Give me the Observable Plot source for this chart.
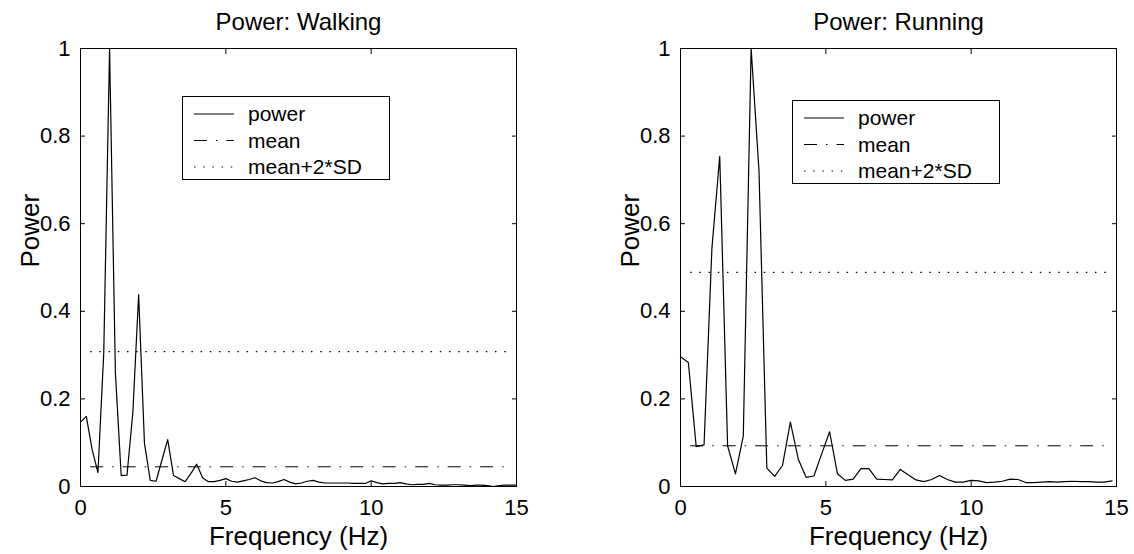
<!DOCTYPE html>
<html>
<head>
<meta charset="utf-8">
<script src="https://cdn.jsdelivr.net/npm/d3@7"></script>
<script src="https://cdn.jsdelivr.net/npm/@observablehq/plot@0.6"></script>
<style>
  body { margin: 0; background: #fff; }
  #chart { position: relative; width: 1134px; height: 554px; display: flex; font-family: "Liberation Sans", Arial, Helvetica, sans-serif; }
  .legend { position: absolute; width: 208px; height: 84px; box-sizing: border-box; border: 1px solid #000; background: #fff; }
  .legend svg { display: block; }
</style>
</head>
<body>
<div id="chart"></div>
<script>
// Power spectra (normalised) of walking and running signals
const walkingFreq = [0.0, 0.2, 0.4, 0.6, 0.8, 1.0, 1.2, 1.4, 1.6, 1.8, 2.0, 2.2, 2.4, 2.6, 2.8, 3.0, 3.2, 3.4, 3.6, 3.8,
  4.0, 4.2, 4.4, 4.6, 4.8, 5.0, 5.2, 5.4, 5.6, 5.8, 6.0, 6.2, 6.4, 6.6, 6.8, 7.0, 7.2, 7.4, 7.6, 7.8,
  8.0, 8.2, 8.4, 8.6, 8.8, 9.0, 9.2, 9.4, 9.6, 9.8, 10.0, 10.2, 10.4, 10.6, 10.8, 11.0, 11.2, 11.4, 11.6, 11.8,
  12.0, 12.2, 12.4, 12.6, 12.8, 13.0, 13.2, 13.4, 13.6, 13.8, 14.0, 14.2, 14.4, 14.6, 14.8, 15.0];
const walkingPower = [0.147, 0.160, 0.084, 0.032, 0.305, 1.000, 0.260, 0.025, 0.026, 0.168, 0.438, 0.099, 0.014, 0.012, 0.060, 0.107, 0.025, 0.018, 0.011, 0.030,
  0.051, 0.020, 0.011, 0.011, 0.014, 0.018, 0.012, 0.010, 0.013, 0.016, 0.020, 0.013, 0.009, 0.008, 0.011, 0.016, 0.010, 0.006, 0.008, 0.012,
  0.014, 0.010, 0.008, 0.008, 0.008, 0.008, 0.008, 0.007, 0.007, 0.007, 0.013, 0.009, 0.006, 0.007, 0.007, 0.009, 0.006, 0.004, 0.005, 0.005,
  0.007, 0.004, 0.003, 0.003, 0.004, 0.004, 0.003, 0.002, 0.003, 0.003, 0.002, 0.000, 0.002, 0.003, 0.003, 0.003];
const walkingMean = 0.045;
const walkingThreshold = 0.308;

const runningFreq = [0.00, 0.27, 0.54, 0.81, 1.08, 1.35, 1.62, 1.89, 2.16, 2.43, 2.70, 2.97, 3.24, 3.51, 3.78, 4.05, 4.32, 4.59, 4.86, 5.13,
  5.40, 5.67, 5.94, 6.21, 6.48, 6.75, 7.02, 7.29, 7.56, 7.83, 8.10, 8.37, 8.64, 8.91, 9.18, 9.45, 9.72, 9.99, 10.26, 10.53,
  10.80, 11.07, 11.34, 11.61, 11.88, 12.15, 12.42, 12.69, 12.96, 13.23, 13.50, 13.77, 14.04, 14.31, 14.58, 14.85];
const runningPower = [0.296, 0.283, 0.091, 0.095, 0.543, 0.754, 0.093, 0.029, 0.115, 1.000, 0.721, 0.042, 0.023, 0.048, 0.147, 0.063, 0.021, 0.024, 0.075, 0.125,
  0.029, 0.014, 0.017, 0.041, 0.041, 0.017, 0.016, 0.015, 0.039, 0.027, 0.015, 0.011, 0.016, 0.025, 0.016, 0.010, 0.010, 0.014, 0.013, 0.009,
  0.010, 0.012, 0.017, 0.016, 0.009, 0.009, 0.010, 0.011, 0.010, 0.011, 0.012, 0.011, 0.011, 0.010, 0.010, 0.013];
const runningMean = 0.093;
const runningThreshold = 0.489;

// frequency span of the mean and threshold guides
const guideSpan = [0.35, 14.8];

const xTicks = [0, 5, 10, 15];
const yTicks = [0, 0.2, 0.4, 0.6, 0.8, 1];
const legendLabels = ["power", "mean", "mean+2*SD"];

const FONT = '"Liberation Sans", Arial, Helvetica, sans-serif';
const DASH_DOT = "13,9,1.5,9";
const DOTTED = "1.5,7.7";

function panel({title, freq, power, mean, threshold, marginLeft, marginRight}) {
  const data = freq.map((f, i) => ({f, p: power[i]}));
  return Plot.plot({
    width: 567,
    height: 554,
    marginTop: 48,
    marginBottom: 68,
    marginLeft,
    marginRight,
    style: {fontFamily: FONT, color: "#000", background: "#fff", overflow: "visible"},
    x: {domain: [0, 15]},
    y: {domain: [0, 1]},
    marks: [
      // inward ticks on all four sides
      Plot.axisX({ticks: xTicks, anchor: "bottom", tickSize: -5, text: null, label: null}),
      Plot.axisX({ticks: xTicks, anchor: "top", tickSize: -5, text: null, label: null}),
      Plot.axisY({ticks: yTicks, anchor: "left", tickSize: -5, text: null, label: null}),
      Plot.axisY({ticks: yTicks, anchor: "right", tickSize: -5, text: null, label: null}),
      // tick labels
      Plot.axisX({ticks: xTicks, anchor: "bottom", tickSize: 0, tickPadding: 13, fontSize: 22, label: null}),
      Plot.axisY({ticks: yTicks, anchor: "left", tickSize: 0, tickPadding: 10, fontSize: 22, label: null,
                  tickFormat: d => `${d}`}),
      Plot.ruleY([mean], {x1: guideSpan[0], x2: guideSpan[1], stroke: "#000", strokeWidth: 1, strokeDasharray: DASH_DOT}),
      Plot.ruleY([threshold], {x1: guideSpan[0], x2: guideSpan[1], stroke: "#000", strokeWidth: 1.2, strokeDasharray: DOTTED}),
      Plot.line(data, {x: "f", y: "p", stroke: "#000", strokeWidth: 1.2}),
      Plot.frame({stroke: "#000", strokeWidth: 1}),
      Plot.text([title], {frameAnchor: "top", lineAnchor: "bottom", dy: -19, fontSize: 24}),
      Plot.text(["Frequency (Hz)"], {frameAnchor: "bottom", lineAnchor: "bottom", dy: 58, fontSize: 26}),
      Plot.text(["Power"], {frameAnchor: "left", rotate: -90, dx: -50, fontSize: 26})
    ]
  });
}

function legend(left, top) {
  const div = document.createElement("div");
  div.className = "legend";
  div.style.left = left + "px";
  div.style.top = top + "px";
  const svg = d3.create("svg").attr("width", 206).attr("height", 82);
  const styles = [null, DASH_DOT, DOTTED];
  legendLabels.forEach((label, i) => {
    const y = 17 + i * 26.5;
    svg.append("line")
      .attr("x1", 11).attr("x2", 51).attr("y1", y).attr("y2", y)
      .attr("stroke", "#000").attr("stroke-width", i === 2 ? 1.2 : 1.1)
      .attr("stroke-dasharray", styles[i]);
    svg.append("text")
      .attr("x", 65).attr("y", y).attr("dy", "0.35em")
      .attr("font-family", FONT).attr("font-size", 21)
      .text(label);
  });
  div.appendChild(svg.node());
  return div;
}

const chart = document.getElementById("chart");
chart.appendChild(panel({title: "Power: Walking", freq: walkingFreq, power: walkingPower,
  mean: walkingMean, threshold: walkingThreshold, marginLeft: 80, marginRight: 51}));
chart.appendChild(panel({title: "Power: Running", freq: runningFreq, power: runningPower,
  mean: runningMean, threshold: runningThreshold, marginLeft: 113, marginRight: 18}));
chart.appendChild(legend(182, 96));
chart.appendChild(legend(792, 100));
</script>
</body>
</html>
